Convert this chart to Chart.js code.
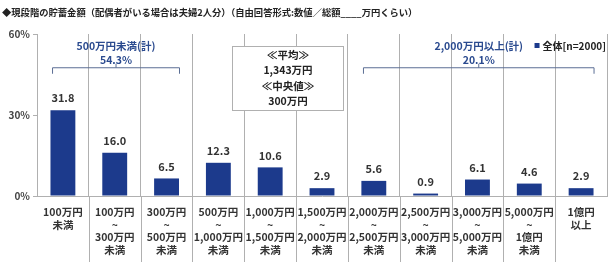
<!DOCTYPE html>
<html><head><meta charset="utf-8">
<script src="https://cdn.jsdelivr.net/npm/chart.js@4/dist/chart.umd.min.js"></script>
<style>html,body{margin:0;padding:0;background:#fff}#wrap{width:614px;height:264px}</style>
</head><body><div id="wrap"><canvas id="c" width="614" height="264"></canvas></div>
<script>
const categories = [
  ["100万円","未満"],
  ["100万円","~","300万円","未満"],
  ["300万円","~","500万円","未満"],
  ["500万円","~","1,000万円","未満"],
  ["1,000万円","~","1,500万円","未満"],
  ["1,500万円","~","2,000万円","未満"],
  ["2,000万円","~","2,500万円","未満"],
  ["2,500万円","~","3,000万円","未満"],
  ["3,000万円","~","5,000万円","未満"],
  ["5,000万円","~","1億円","未満"],
  ["1億円","以上"]
];
const values = [31.8, 16.0, 6.5, 12.3, 10.6, 2.9, 5.6, 0.9, 6.1, 4.6, 2.9];
const yTicks = [0, 30, 60];
const titleText = "◆現段階の貯蓄金額（配偶者がいる場合は夫婦2人分）（自由回答形式:数値／総額____万円くらい）";
const legendText = "全体[n=2000]";
const groupLeft = {label: "500万円未満(計)", value: "54.3%", from: 0, to: 2};
const groupRight = {label: "2,000万円以上(計)", value: "20.1%", from: 6, to: 10};
const statsLines = ["≪平均≫", "1,343万円", "≪中央値≫", "300万円"];

const NAVY = "#1c3a8c";
const GRID = "#b0b0b0";
const JP = "'Noto Sans CJK JP', 'Noto Sans', sans-serif";

const overlay = {
  id: "overlay",
  afterDatasetsDraw(chart) {
    const ctx = chart.ctx, x = chart.scales.x, y = chart.scales.y, a = chart.chartArea;
    ctx.save();
    // value labels
    ctx.font = "bold 11px " + JP;
    ctx.fillStyle = "#333";
    ctx.textAlign = "center";
    ctx.textBaseline = "middle";
    chart.getDatasetMeta(0).data.forEach((bar, i) => {
      ctx.fillText(values[i].toFixed(1), bar.x, bar.y - 12);
    });
    // separators below axis
    ctx.strokeStyle = GRID; ctx.lineWidth = 1;
    for (let i = 1; i < categories.length; i++) {
      const px = Math.round(x.getPixelForValue(i - 0.5)) + 0.5;
      ctx.beginPath(); ctx.moveTo(px, a.bottom); ctx.lineTo(px, chart.height - 2); ctx.stroke();
    }
    // brackets
    const bracket = (g) => {
      const l = x.getPixelForValue(g.from - 0.2), r = x.getPixelForValue(g.to + 0.25);
      const by = y.getPixelForValue(47.5);
      ctx.strokeStyle = "#5b6e94"; ctx.lineWidth = 1;
      ctx.beginPath();
      ctx.moveTo(l, by + 6); ctx.lineTo(l, by); ctx.lineTo(r, by); ctx.lineTo(r, by + 6);
      const m = (l + r) / 2;
      ctx.moveTo(m, by); ctx.lineTo(m, by - 4);
      ctx.stroke();
      ctx.fillStyle = "#2a4a8f";
      ctx.font = "bold 10.5px " + JP;
      ctx.fillText(g.label, m, y.getPixelForValue(55.5));
      ctx.fillText(g.value, m, y.getPixelForValue(50.3));
    };
    bracket(groupLeft); bracket(groupRight);
    // stats box
    const bl = Math.round(x.getPixelForValue(3.27)) + 0.5, br = Math.round(x.getPixelForValue(5.4)) + 0.5;
    const bt = Math.round(y.getPixelForValue(55.5)) + 0.5, bb = Math.round(y.getPixelForValue(31.8)) + 0.5;
    ctx.fillStyle = "#fff"; ctx.fillRect(bl, bt, br - bl, bb - bt);
    ctx.strokeStyle = GRID; ctx.strokeRect(bl, bt, br - bl, bb - bt);
    ctx.fillStyle = "#222"; ctx.font = "bold 10.5px " + JP;
    const cx = (bl + br) / 2;
    const ys = [bt + 9, bt + 24, bt + 40, bt + 55];
    statsLines.forEach((t, i) => ctx.fillText(t, cx, ys[i]));
    // title
    ctx.textAlign = "left";
    ctx.fillStyle = "#222";
    ctx.font = "bold 9.3px " + JP;
    ctx.fillText(titleText, 2, 12);
    // legend
    ctx.font = "bold 10px " + JP;
    ctx.textAlign = "right";
    ctx.fillText(legendText, 606, 46);
    const lw = ctx.measureText(legendText).width;
    ctx.fillStyle = NAVY;
    ctx.fillRect(606 - lw - 8, 43, 5, 5);
    ctx.restore();
  }
};

new Chart(document.getElementById("c"), {
  type: "bar",
  data: {
    labels: categories,
    datasets: [{ data: values, backgroundColor: NAVY, barPercentage: 0.96, categoryPercentage: 0.5 }]
  },
  options: {
    responsive: false, animation: false,
    layout: { padding: { top: 34, right: 7, left: 0, bottom: 0 } },
    plugins: { legend: { display: false }, tooltip: { enabled: false } },
    scales: {
      x: {
        grid: { color: GRID, drawTicks: false, offset: true },
        border: { color: GRID },
        ticks: { color: "#333", font: { family: JP, size: 10.5, weight: "bold" }, padding: 10, maxRotation: 0, autoSkip: false },
        afterFit(s) { s.height = 68; }
      },
      y: {
        min: 0, max: 60,
        afterBuildTicks(s) { s.ticks = yTicks.map(v => ({ value: v })); },
        grid: { drawOnChartArea: false, drawTicks: true, tickLength: 4, color: GRID },
        border: { color: GRID },
        ticks: { color: "#444", font: { family: JP, size: 10, weight: "bold" }, padding: 3, callback: v => v + "%" },
        afterFit(s) { s.width = 37; }
      }
    }
  },
  plugins: [overlay]
});
</script></body></html>
